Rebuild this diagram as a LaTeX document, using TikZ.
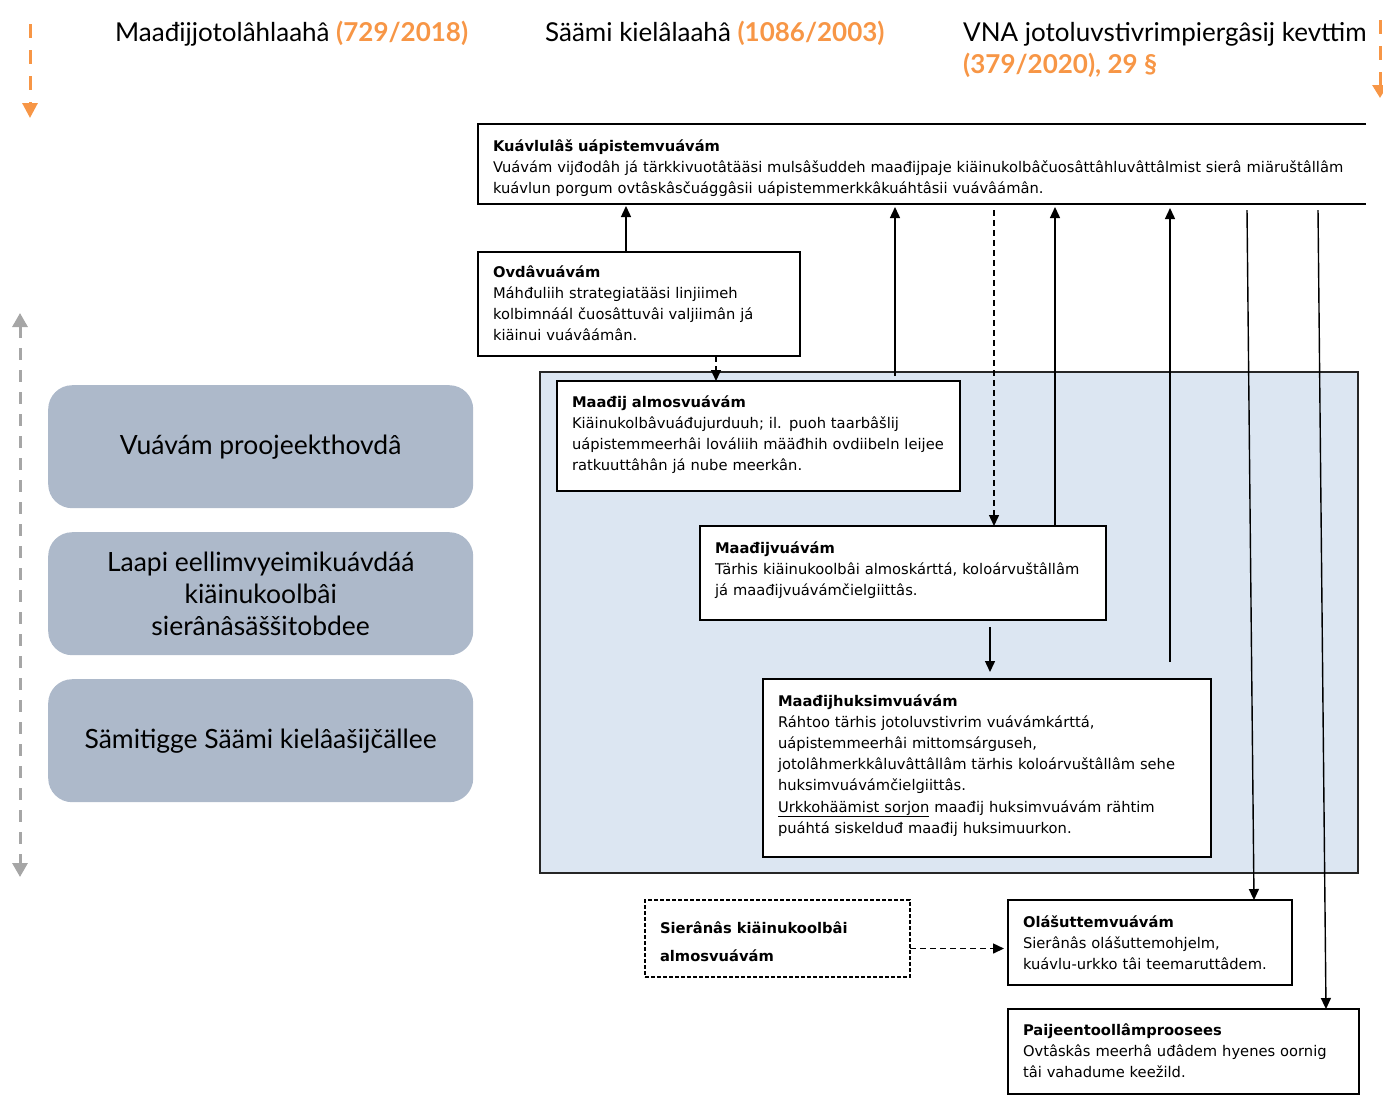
\documentclass[tikz,border=0pt]{standalone}
\usepackage{fontspec}
\setmainfont{DejaVu Sans}
\newfontfamily\hdfont{Lato}
\usetikzlibrary{arrows.meta}
\definecolor{orng}{RGB}{247,150,70}
\definecolor{zonebg}{RGB}{220,230,242}
\definecolor{sidebox}{RGB}{173,185,202}
\definecolor{greyarr}{RGB}{166,166,166}
\tikzset{
  box/.style={draw=black, line width=1.8pt, fill=white, anchor=north west, align=left,
    inner xsep=15pt, inner ysep=0pt, outer sep=0pt, font=\fontsize{14.7}{21.2}\selectfont},
  arr/.style={line width=1.4pt, -{Triangle[length=11pt,width=10pt]}},
  dsh/.style={dash pattern=on 6pt off 4pt},
  side/.style={fill=sidebox, rounded corners=24pt, anchor=north west, minimum width=425pt,
    minimum height=123pt, align=center, font=\hdfont\fontsize{26.5}{32}\selectfont, inner sep=0pt},
  hdr/.style={font=\hdfont\fontsize{26}{32}\selectfont, inner sep=0pt, anchor=base west, align=left},
  bigarr/.style={line width=3pt, dash pattern=on 14pt off 12pt},
}
\begin{document}
\begin{tikzpicture}[x=1pt,y=-1pt]
\useasboundingbox (0,0) rectangle (1383,1096);

% headers
\node[hdr] (h1) at (115,41) {Maađijjotolâhlaahâ \textcolor{orng}{\bfseries (729/2018)}};
\node[hdr] (h2) at (545,41) {Säämi kielâlaahâ \textcolor{orng}{\bfseries (1086/2003)}};
\node[hdr] (h3) at (963,73) {VNA jotoluvstivrimpiergâsij kevttim\\\textcolor{orng}{\bfseries (379/2020), 29 §}};

% orange arrows
\coordinate (oa1) at (30,24);
\coordinate (oa2) at (30,118);
\draw[orng, bigarr, -{Triangle[length=15pt,width=15pt]}] (oa1) -- (oa2);
\coordinate (ob1) at (1380,20);
\coordinate (ob2) at (1380,98);
\draw[orng, bigarr, -{Triangle[length=13pt,width=15pt]}] (ob1) -- (ob2);

% grey double arrow
\coordinate (g1) at (20,313);
\coordinate (g2) at (20,877);
\draw[greyarr, line width=3pt, dash pattern=on 12pt off 10pt,
  {Triangle[length=14pt,width=15pt]}-{Triangle[length=14pt,width=15pt]}] (g1) -- (g2);

% left boxes
\node[side] (lb1) at (48,385) {Vuávám proojeekthovdâ};
\node[side] (lb2) at (48,532) {Laapi eellimvyeimikuávdáá\\kiäinukoolbâi\\sierânâsäššitobdee};
\node[side] (lb3) at (48,679) {Sämitigge Säämi kielâašijčällee};

% zone
\node[draw=black!85, line width=1.8pt, fill=zonebg, anchor=north west, minimum width=818pt,
  minimum height=501pt, inner sep=0pt, outer sep=0pt] (zone) at (540,372) {};

% top box (open on the right)
\node[box, draw=none, text width=1000pt, text height=27pt, text depth=53pt] (kuav) at (478,124)
  {\textbf{Kuávlulâš uápistemvuávám}\\
   Vuávám vijđodâh já tärkkivuotâtääsi mulsâšuddeh maađijpaje kiäinukolbâčuosâttâhluvâttâlmist sierâ miäruštâllâm\\
   kuávlun porgum ovtâskâsčuággâsii uápistemmerkkâkuáhtâsii vuávâámân.};
\draw[line width=1.8pt] ([xshift=888pt]kuav.north west) -- (kuav.north west) -- (kuav.south west) -- ([xshift=888pt]kuav.south west);

\node[box, text width=292pt, text height=25pt, text depth=79pt] (ovda) at (478,252)
  {\textbf{Ovdâvuávám}\\
   Máhđuliih strategiatääsi linjiimeh\\
   kolbimnáál čuosâttuvâi valjiimân já\\
   kiäinui vuávâámân.};

\node[box, text width=373pt, text height=26pt, text depth=84pt] (almos) at (557,381)
  {\textbf{Maađij almosvuávám}\\
   Kiäinukolbâvuáđujurduuh; il. puoh taarbâšlij\\
   uápistemmeerhâi lováliih määđhih ovdiibeln leijee\\
   ratkuuttâhân já nube meerkân.};

\node[box, text width=376pt, text height=27pt, text depth=67pt] (maadij) at (700,526)
  {\textbf{Maađijvuávám}\\
   Tärhis kiäinukoolbâi almoskárttá, koloárvuštâllâm\\
   já maađijvuávámčielgiittâs.};

\node[box, text width=418pt, text height=27pt, text depth=151pt] (huksim) at (763,679)
  {\textbf{Maađijhuksimvuávám}\\
   Ráhtoo tärhis jotoluvstivrim vuávámkárttá,\\
   uápistemmeerhâi mittomsárguseh,\\
   jotolâhmerkkâluvâttâllâm tärhis koloárvuštâllâm sehe\\
   huksimvuávámčielgiittâs.\\
   \underline{Urkkohäämist sorjon} maađij huksimvuávám rähtim\\
   puáhtá siskelduđ maađij huksimuurkon.};

\node[box, line width=1.5pt, dash pattern=on 4pt off 2pt, text width=235pt, text height=33pt, text depth=44pt,
  font=\bfseries\fontsize{14.7}{28}\selectfont] (sier) at (645,900)
  {Sierânâs kiäinukoolbâi\\ almosvuávám};

\node[box, text width=254pt, text height=27pt, text depth=58pt] (olas) at (1008,900)
  {\textbf{Olášuttemvuávám}\\
   Sierânâs olášuttemohjelm,\\
   kuávlu-urkko tâi teemaruttâdem.};

\node[box, text width=321pt, text height=26pt, text depth=59pt] (paij) at (1008,1009)
  {\textbf{Paijeentoollâmproosees}\\
   Ovtâskâs meerhâ uđâdem hyenes oornig\\
   tâi vahadume keežild.};

% connectors
\draw[arr] ([xshift=148pt]ovda.north west) -- ([xshift=148pt,yshift=-2pt]ovda.north west |- kuav.south);
\draw[arr, dsh] ([xshift=238pt]ovda.south west) -- ([xshift=238pt]ovda.south west |- almos.north);
\coordinate (s3) at (895,376);
\draw[arr] (s3) -- ([yshift=-3pt]s3 |- kuav.south);
\draw[arr, dsh] ([xshift=294pt,yshift=-6pt]maadij.north west |- kuav.south) -- ([xshift=294pt]maadij.north west);
\draw[arr] ([xshift=355pt]maadij.north west) -- ([xshift=355pt,yshift=-3pt]maadij.north west |- kuav.south);
\draw[arr] ([xshift=290pt,yshift=-7pt]maadij.south west) -- ([xshift=227pt,yshift=7pt]huksim.north west);
\coordinate (s7) at (1170,662);
\draw[arr] (s7) -- ([yshift=-4pt]s7 |- kuav.south);
\draw[arr] ([xshift=769pt,yshift=-6pt]kuav.south west) -- ([xshift=246pt]olas.north west);
\draw[arr] ([xshift=840pt,yshift=-6pt]kuav.south west) -- ([xshift=318pt]paij.north west);
\draw[arr, line width=1.5pt, dash pattern=on 6pt off 4pt, shorten >=4pt] ([yshift=-10pt]sier.east) -- ([yshift=-10pt]sier.east -| olas.west);
\end{tikzpicture}
\end{document}
